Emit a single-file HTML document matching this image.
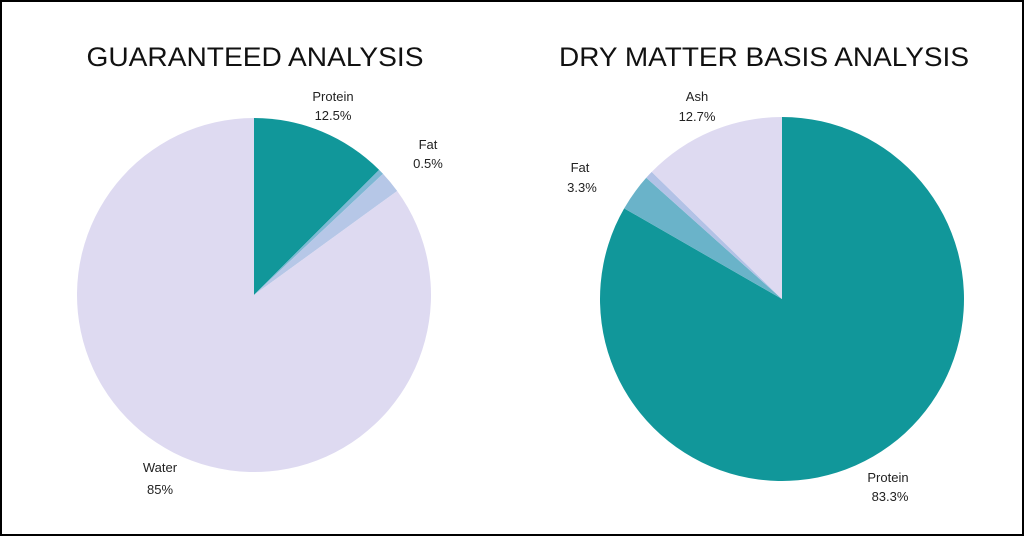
<!DOCTYPE html>
<html><head><meta charset="utf-8"><style>
html,body{margin:0;padding:0;background:#fff}
svg{display:block}
text{font-family:"Liberation Sans",sans-serif;fill:#111}
.lbl{font-size:13px;fill:#222;text-anchor:middle}
.title{font-size:27px;text-anchor:middle}
</style></head><body>
<svg id="chart" width="1024" height="536" viewBox="0 0 1024 536">
<rect x="1" y="1" width="1022" height="534" fill="#fff" stroke="#000" stroke-width="2"/>
<text class="title" x="255" y="66" textLength="337" lengthAdjust="spacingAndGlyphs">GUARANTEED ANALYSIS</text>
<text class="title" x="764" y="66" textLength="410" lengthAdjust="spacingAndGlyphs">DRY MATTER BASIS ANALYSIS</text>
<g id="pie1"></g>
<g id="pie2"></g>
<text class="lbl" x="333" y="101">Protein</text>
<text class="lbl" x="333" y="120">12.5%</text>
<text class="lbl" x="428" y="149">Fat</text>
<text class="lbl" x="428" y="168">0.5%</text>
<text class="lbl" x="160" y="472">Water</text>
<text class="lbl" x="160" y="494">85%</text>
<text class="lbl" x="697" y="101">Ash</text>
<text class="lbl" x="697" y="121">12.7%</text>
<text class="lbl" x="580" y="172">Fat</text>
<text class="lbl" x="582" y="192">3.3%</text>
<text class="lbl" x="888" y="482">Protein</text>
<text class="lbl" x="890" y="501">83.3%</text>
</svg>
<script>
const gaCategories = ["Protein","Fat","Other","Water"];
const gaValues = [12.5, 0.5, 2, 85];
const dmCategories = ["Protein","Fat","Other","Ash"];
const dmValues = [83.3, 3.3, 0.7, 12.7];
const gaColors = ["#11979a","#7db8d4","#b6c7e7","#dedaf1"];
const dmColors = ["#11979a","#6ab3c9","#b2c2e6","#dedaf1"];
function drawPie(gid, cats, vals, colors, cx, cy, r){
  const g=document.getElementById(gid);
  const total=vals.reduce((a,b)=>a+b,0);
  let a0=-Math.PI/2;
  vals.forEach((v,i)=>{
    const a1=a0+v/total*2*Math.PI;
    const x0=cx+r*Math.cos(a0),y0=cy+r*Math.sin(a0);
    const x1=cx+r*Math.cos(a1),y1=cy+r*Math.sin(a1);
    const large=(a1-a0)>Math.PI?1:0;
    const p=document.createElementNS("http://www.w3.org/2000/svg","path");
    p.setAttribute("d",`M${cx},${cy} L${x0},${y0} A${r},${r} 0 ${large} 1 ${x1},${y1} Z`);
    p.setAttribute("fill",colors[i]);
    
    
    g.appendChild(p);
    a0=a1;
  });
}
drawPie("pie1", gaCategories, gaValues, gaColors, 254, 295, 177);
drawPie("pie2", dmCategories, dmValues, dmColors, 782, 299, 182);
</script>
</body></html>
